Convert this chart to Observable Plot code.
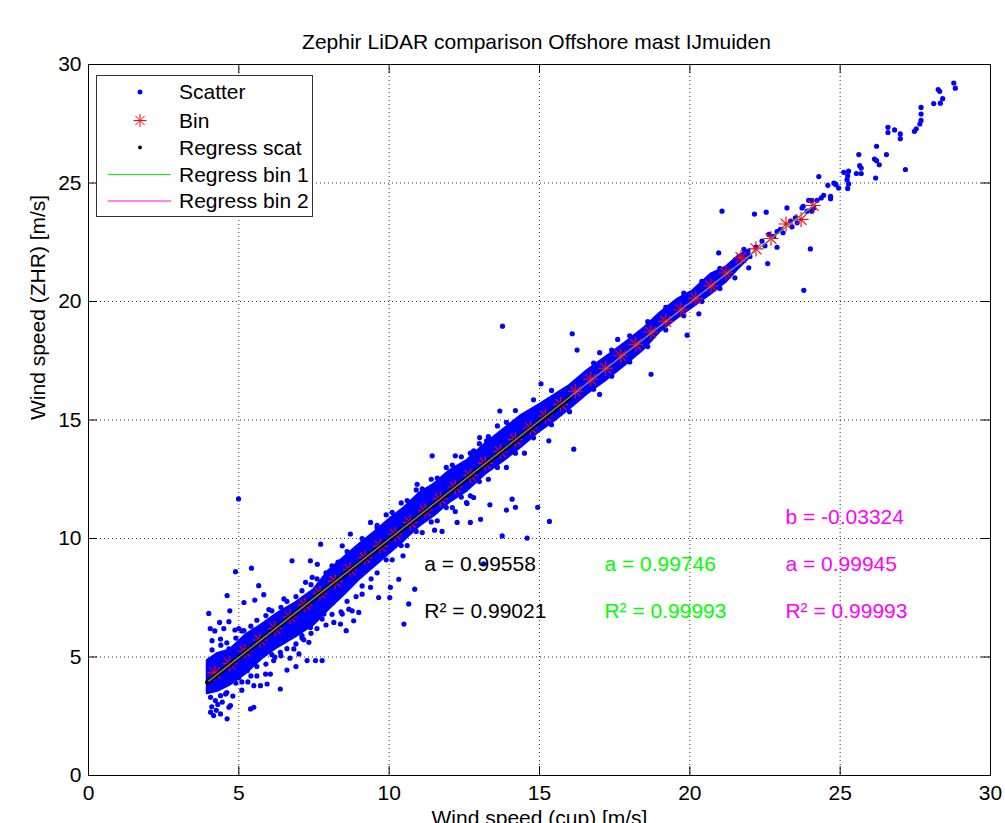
<!DOCTYPE html>
<html><head><meta charset="utf-8">
<script src="https://cdn.jsdelivr.net/npm/d3@7"></script>
<script src="https://cdn.jsdelivr.net/npm/@observablehq/plot@0.6"></script>
<style>
html,body{margin:0;padding:0;background:#fff;overflow:hidden;}
#wrap{position:relative;width:1005px;height:823px;font-family:"Liberation Sans",Arial,sans-serif;}
#title{box-sizing:border-box;width:1005px;height:54px;padding-top:30px;padding-left:68px;text-align:center;font-size:21px;line-height:24px;color:#000;white-space:nowrap;}
#legend{position:absolute;left:96px;top:75px;}
</style></head><body>
<div id="wrap"><div id="title">Zephir LiDAR comparison Offshore mast IJmuiden</div><div id="chart"></div><div id="legend"></div></div>
<script>
// ---------- data ----------
const titleText = "Zephir LiDAR comparison Offshore mast IJmuiden";
const xLabel = "Wind speed (cup) [m/s]";
const yLabel = "Wind speed (ZHR) [m/s]";
const xTicks = [0, 5, 10, 15, 20, 25, 30];
const yTicks = [0, 5, 10, 15, 20, 25, 30];
const gridTicks = [5, 10, 15, 20, 25];

// dense core of the scatter (envelope)
const bandX  = [3.95, 4.3, 4.7, 5.2, 5.8, 6.3, 6.9, 7.5, 8.0, 8.5, 9.0, 9.5, 10.0, 10.5, 11.0, 11.5, 12.0, 12.6, 13.2, 13.8, 14.4, 15.0, 15.5, 16.0, 16.6, 17.2, 17.9, 18.5, 19.0, 19.6, 20.1, 20.7, 21.2, 21.6, 22.0];
const bandLo = [3.45, 3.55, 3.8, 4.25, 4.95, 5.4, 5.85, 6.35, 7.0, 7.6, 8.25, 8.8, 9.35, 9.9, 10.5, 10.95, 11.5, 12.0, 12.7, 13.25, 13.85, 14.5, 14.95, 15.45, 16.1, 16.65, 17.35, 18.0, 18.7, 19.3, 19.75, 20.3, 20.8, 21.35, 21.85];
const bandHi = [4.85, 5.15, 5.3, 5.9, 6.4, 6.85, 7.3, 7.85, 8.65, 9.2, 9.75, 10.25, 10.8, 11.3, 11.9, 12.3, 12.85, 13.3, 14.0, 14.6, 15.2, 15.65, 16.05, 16.45, 17.1, 17.65, 18.3, 18.9, 19.5, 20.1, 20.45, 21.15, 21.45, 21.9, 22.2];

// individual scatter points outside / around the core
const lowPts = [[4.89,8.6],[5.42,8.75],[6.77,9.06],[8.16,8.75],[4.61,7.59],[4.0,6.84],[5.17,7.3],[5.53,7.4],[5.83,7.63],[5.66,8.01],[4.7,6.95],[4.36,6.46],[4.67,6.49],[4.87,6.14],[4.11,5.69],[4.39,5.76],[4.11,5.3],[4.67,5.34],[5.17,6.11],[7.44,8.36],[7.22,8.15],[8.66,7.02],[8.44,6.81],[8.57,6.11],[8.16,6.46],[7.77,6.6],[7.38,6.25],[7.16,5.73],[7.33,5.62],[6.83,5.34],[7.0,5.13],[7.27,4.85],[7.55,4.85],[7.77,4.85],[6.16,4.85],[6.38,5.2],[6.05,4.28],[5.89,4.28],[6.38,3.65],[5.5,3.79],[5.5,2.88],[5.39,2.81],[5.72,3.79],[5.94,3.86],[4.67,2.88],[4.72,2.95],[4.39,2.6],[4.61,2.39],[4.06,2.67],[4.06,3.3],[4.22,3.16],[4.39,3.37],[4.56,3.44],[5.0,4.14],[5.05,4.42],[5.28,4.42],[4.99,11.67],[4.16,2.53],[4.3,3.0],[4.05,6.2],[4.2,6.1],[4.5,6.2],[4.1,2.9],[4.25,2.75],[4.45,3.1],[4.8,3.35],[5.1,3.6],[5.3,3.95],[5.6,4.2],[6.6,4.45],[6.9,4.6],[6.7,4.95],[7.72,9.76],[7.38,9.06],[7.61,8.91],[8.71,10.19],[8.44,9.69],[9.38,7.94],[9.65,7.51],[9.1,7.65],[8.99,6.88],[8.77,6.95],[8.82,6.53],[8.38,6.39],[7.83,6.81],[9.38,10.68],[9.6,10.46],
  [4.4,5.5],[4.9,5.8],[5.4,6.3],[5.9,6.75],[6.4,7.1],[6.9,7.55],[7.4,8.05],[7.9,8.55],[8.3,9.0],[6.0,7.0],[6.5,7.45],[5.0,6.2],
  [4.9,3.9],[5.4,4.2],[5.9,4.7],[6.4,5.05],[6.9,5.55],[7.4,6.0],[7.9,6.35],[8.4,6.9],[8.9,7.55],[9.4,8.3],[6.2,5.0],[7.1,5.8],
  [4.6,5.6],[5.1,6.1],[5.6,6.55],[6.1,6.95],[6.6,7.35],[7.1,7.8],[7.6,8.3],[8.1,8.85],[8.6,9.45],[9.1,10.0],
  [4.6,3.5],[5.1,3.95],[5.6,4.6],[6.1,5.1],[6.6,5.35],[7.1,5.9],[7.6,6.2],[8.1,6.8],[8.6,7.35],[9.1,8.0]];
const midPts = [[10.93,12.29],[10.99,11.8],[11.51,10.35],[11.76,10.3],[12.57,11.52],[12.26,10.68],[10.46,9.27],[10.32,8.28],[10.04,7.94],[10.02,7.51],[10.85,7.86],[10.65,7.24],[10.49,6.39],[11.43,13.49],[12.2,13.49],[16.14,13.77],[15.05,16.53],[15.31,14.12],[14.94,11.31],[15.33,10.72],[13.76,10.11],[14.59,10.02],[13.35,11.42],[13.9,11.2],[14.2,11.31],[14.09,11.66],[12.59,11.48],[12.81,11.73],[12.2,11.14],[12.7,10.68],[13.04,10.81],[13.01,14.26],[12.81,13.7],[13.24,14.12],[13.68,15.38],[13.14,8.93],[13.77,18.96],
  [9.9,11.0],[10.4,11.5],[10.9,12.05],[11.4,12.5],[11.9,13.0],[12.4,13.45],[13.0,14.0],[13.6,14.75],[14.2,15.4],[14.8,15.85],[15.4,16.25],
  [9.9,9.1],[10.4,9.7],[10.9,10.3],[11.4,10.7],[11.9,11.3],[12.4,11.75],[13.0,12.4],[13.6,13.0],[14.2,13.6],[14.8,14.25],[15.4,14.8],[16.0,15.35],
  [9.6,10.55],[10.1,11.1],[10.6,11.6],[11.1,12.1],[11.6,12.55],[12.1,13.1],[12.7,13.6],[13.3,14.3],[13.9,14.9],
  [9.6,8.55],[10.1,9.1],[10.6,9.7],[11.1,10.25],[11.6,10.75],[12.1,11.3],[12.7,11.8],[13.3,12.5],[13.9,13.0],[14.5,13.6]];
const highPts = [[16.09,18.64],[16.25,17.95],[17.0,17.84],[17.0,16.08],[18.71,16.93],[19.91,18.58],[20.3,19.48],[17.6,18.4],[20.96,22.05],[22.59,21.6],[21.96,21.42],[22.9,22.29],[21.07,23.81],[22.15,23.69],[22.54,23.77],
  [16.8,17.4],[17.4,17.95],[18.0,18.55],[18.6,19.15],[19.2,19.75],[19.8,20.35],[20.4,20.85],[21.0,21.4],[16.8,16.3],[17.4,16.85],[18.0,17.45],[18.6,18.1],[19.2,18.8],[19.8,19.4],[20.4,20.0],[21.0,20.55],[21.5,21.0],[21.8,22.2],[22.0,21.9],[22.2,22.3],[22.4,22.55],[22.5,22.35],[22.63,22.83],[22.79,22.75],[22.9,22.95]];
const tailPts = [[23.01,23.04],[23.1,22.9],[23.35,23.39],[23.4,23.15],[23.51,23.53],[23.57,23.32],[23.77,24.02],[23.9,23.81],[23.73,23.95],[24.06,23.81],[24.12,23.95],[23.95,24.27],[24.06,24.27],[24.23,24.27],[24.37,24.37],[24.45,24.48],[24.68,24.44],[24.68,24.34],[24.29,25.27],[24.59,24.9],[24.79,25.0],[24.86,24.93],[24.95,24.79],[24.84,24.96],[23.23,23.95],[24.01,22.22],[23.79,20.47],[27.17,25.57],
  [28.78,29.22],[28.83,29.0],[28.26,28.94],[28.31,28.87],[28.41,28.56],[28.33,28.37],[28.11,28.35],[27.69,28.19],[27.69,27.91],[27.69,27.64],[27.65,27.49],[27.53,27.29],[27.47,27.18],[26.59,27.35],[26.59,27.13],[26.81,27.24],[27.0,27.07],[27.0,26.87],[26.21,26.55],[25.62,26.2],[26.54,26.2],[26.14,26.01],[26.21,25.94],[26.3,25.77],[25.65,25.73],[25.7,25.63],[25.54,25.4],[25.7,25.4],[26.18,25.21],[25.12,25.45],[25.28,25.5],[25.25,25.31],[25.23,25.14],[25.28,24.96],[25.25,24.77]];

// bin averages
const binX = [4.2,4.7,5.2,5.7,6.2,6.7,7.2,7.7,8.2,8.7,9.2,9.7,10.2,10.7,11.2,11.7,12.2,12.7,13.2,13.7,14.2,14.7,15.2,15.7,16.2,16.7,17.2,17.7,18.2,18.7,19.2,19.7,20.2,20.7,21.2,21.7,22.2,22.7,23.2,23.7,24.1];
const binY = [4.33,4.72,5.24,5.72,6.2,6.69,7.2,7.69,8.19,8.68,9.19,9.68,10.18,10.68,11.17,11.67,12.17,12.66,13.17,13.66,14.17,14.66,15.17,15.66,16.2,16.72,17.18,17.71,18.19,18.7,19.16,19.65,20.13,20.66,21.2,21.85,22.22,22.66,23.27,23.46,24.05];

// regression lines (end points)
const scatRegX = [3.95, 16.0];  const scatRegY = [3.93, 15.93];   // a = 0.99558
const bin1RegX = [4.0, 24.2];   const bin1RegY = [3.99, 24.14];   // a = 0.99746
const bin2RegX = [4.0, 24.2];   const bin2RegY = [3.964, 24.153]; // a = 0.99945, b = -0.03324

// annotation texts
const annText  = ["a = 0.99558", "R\u00B2 = 0.99021", "a = 0.99746", "R\u00B2 = 0.99993", "b = -0.03324", "a = 0.99945", "R\u00B2 = 0.99993"];
const annX     = [11.17, 11.17, 17.16, 17.16, 23.18, 23.18, 23.18];
const annY     = [8.93, 6.95, 8.93, 6.95, 10.91, 8.93, 6.95];
const annColor = ["#000000", "#000000", "#00ff00", "#00ff00", "#ff00ff", "#ff00ff", "#ff00ff"];

const legendLabels = ["Scatter", "Bin", "Regress scat", "Regress bin 1", "Regress bin 2"];

// ---------- build ----------
const band = bandX.map((x, i) => ({x, lo: bandLo[i], hi: bandHi[i]}));
const pts = [...lowPts, ...midPts, ...highPts, ...tailPts].map(([x, y]) => ({x, y}));
const bins = binX.map((x, i) => ({x, y: binY[i]}));
const scatReg = scatRegX.map((x, i) => ({x, y: scatRegY[i]}));
const bin1Reg = bin1RegX.map((x, i) => ({x, y: bin1RegY[i]}));
const bin2Reg = bin2RegX.map((x, i) => ({x, y: bin2RegY[i]}));
const ann = annText.map((t, i) => ({t, x: annX[i], y: annY[i], c: annColor[i]}));

const asterisk = {
  draw(ctx, size) {
    const r = Math.sqrt(size / Math.PI), d = r * 0.72;
    ctx.moveTo(-r, 0); ctx.lineTo(r, 0);
    ctx.moveTo(0, -r); ctx.lineTo(0, r);
    ctx.moveTo(-d, -d); ctx.lineTo(d, d);
    ctx.moveTo(-d, d); ctx.lineTo(d, -d);
  }
};

const FW = 902, FH = 711, TICK = 9;
const chart = Plot.plot({
  width: 1005, height: 790,
  marginLeft: 88, marginRight: 15, marginTop: 10, marginBottom: 69,
  style: {fontFamily: "'Liberation Sans', Arial, sans-serif", fontSize: "21px", color: "#000", background: "#fff", overflow: "visible"},
  x: {domain: [0, 30]},
  y: {domain: [0, 30]},
  marks: [
    Plot.gridX(gridTicks, {stroke: "#000", strokeOpacity: 0.8, strokeDasharray: "1,3"}),
    Plot.gridY(gridTicks, {stroke: "#000", strokeOpacity: 0.8, strokeDasharray: "1,3"}),
    Plot.areaY(band, {x: "x", y1: "lo", y2: "hi", fill: "#0000ff", stroke: "#0000ff", strokeWidth: 2, strokeLinejoin: "round", curve: "linear"}),
    Plot.dot(pts, {x: "x", y: "y", r: 2.6, fill: "#0000ff"}),
    Plot.dot(bins, {x: "x", y: "y", symbol: asterisk, r: 7.5, fill: "none", stroke: "#ff0000", strokeWidth: 1.1}),
    Plot.line(scatReg, {x: "x", y: "y", stroke: "#000", strokeWidth: 4.5}),
    Plot.line(bin1Reg, {x: "x", y: "y", stroke: "#00ff00", strokeWidth: 1.3}),
    Plot.line(bin2Reg, {x: "x", y: "y", stroke: "#ff00ff", strokeWidth: 0.9}),
    Plot.text(ann, {x: "x", y: "y", text: "t", fill: "c", textAnchor: "start", fontSize: 21}),
    Plot.ruleX(xTicks, {stroke: "#000", insetTop: FH - TICK}),
    Plot.ruleX(xTicks, {stroke: "#000", insetBottom: FH - TICK}),
    Plot.ruleY(yTicks, {stroke: "#000", insetRight: FW - TICK}),
    Plot.ruleY(yTicks, {stroke: "#000", insetLeft: FW - TICK}),
    Plot.frame({stroke: "#000"}),
    Plot.axisX(xTicks, {tickSize: 0, tickPadding: 10, fontSize: 21, label: null}),
    Plot.axisY(yTicks, {tickSize: 0, tickPadding: 7, fontSize: 21, label: null}),
    Plot.text([xLabel], {text: d => d, frameAnchor: "bottom", dy: 49, fontSize: 21}),
    Plot.text([yLabel], {text: d => d, frameAnchor: "left", dx: -50, rotate: -90, fontSize: 21})
  ]
});
document.getElementById("chart").appendChild(chart);
document.getElementById("title").textContent = titleText;

// ---------- legend ----------
const rowsY = [17, 45.5, 72.5, 99.5, 126];
const ns = "http://www.w3.org/2000/svg";
const lg = d3.select("#legend").append("svg").attr("xmlns", ns).attr("width", 218).attr("height", 143)
  .style("font-family", "'Liberation Sans', Arial, sans-serif").style("font-size", "21px");
lg.append("rect").attr("x", 0.5).attr("y", 0.5).attr("width", 216).attr("height", 141).attr("fill", "#fff").attr("stroke", "#333");
lg.append("circle").attr("cx", 44).attr("cy", rowsY[0]).attr("r", 2.5).attr("fill", "#0000ff");
{
  const r = 6.5, d = r * 0.72, cy = rowsY[1], cx = 44;
  lg.append("path").attr("d", `M${cx-r},${cy}H${cx+r}M${cx},${cy-r}V${cy+r}M${cx-d},${cy-d}L${cx+d},${cy+d}M${cx-d},${cy+d}L${cx+d},${cy-d}`)
    .attr("stroke", "#ff0000").attr("fill", "none");
}
lg.append("circle").attr("cx", 44).attr("cy", rowsY[2]).attr("r", 2).attr("fill", "#000");
lg.append("line").attr("x1", 12).attr("x2", 75).attr("y1", rowsY[3]).attr("y2", rowsY[3]).attr("stroke", "#00ff00");
lg.append("line").attr("x1", 12).attr("x2", 75).attr("y1", rowsY[4]).attr("y2", rowsY[4]).attr("stroke", "#ff00ff");
legendLabels.forEach((t, i) => {
  lg.append("text").attr("x", 83).attr("y", rowsY[i]).attr("dy", "0.35em").attr("fill", "#000").text(t);
});
</script>
</body></html>
